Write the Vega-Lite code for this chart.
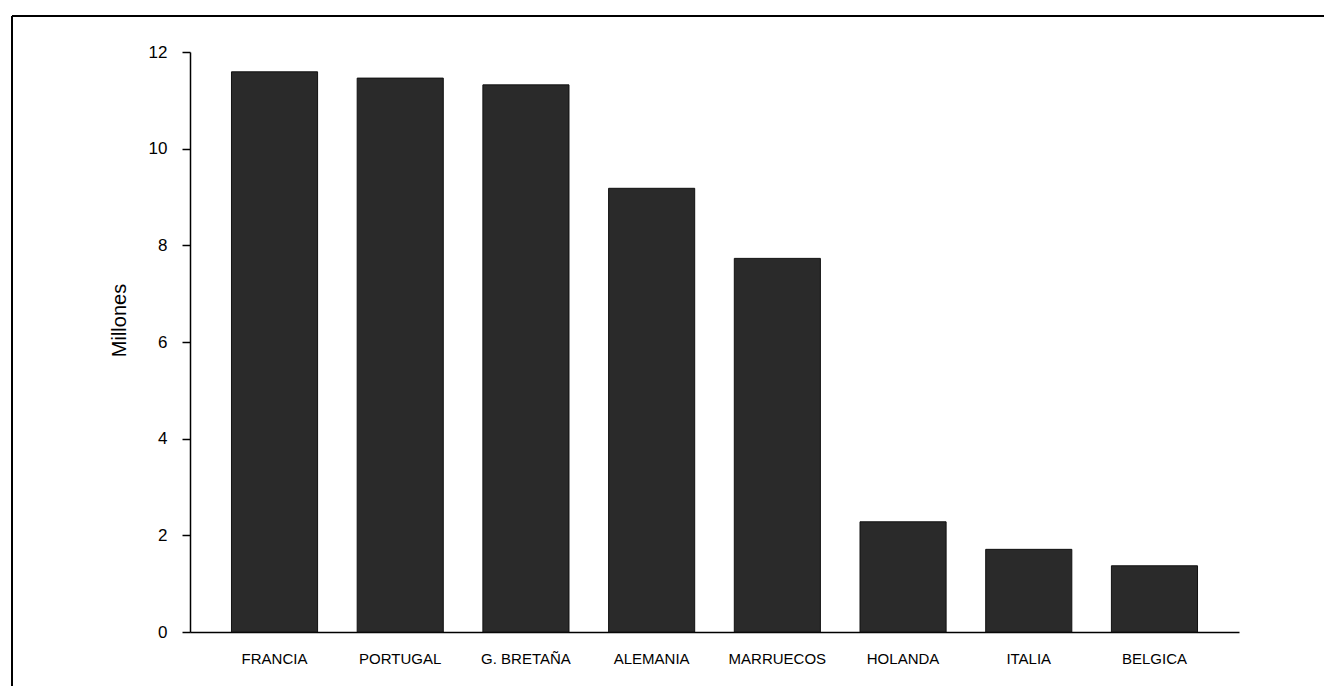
{
  "$schema": "https://vega.github.io/schema/vega-lite/v6.json",
  "width": 1312,
  "height": 670,
  "autosize": {"type": "none"},
  "padding": {"left": 12, "top": 16, "right": 0, "bottom": 0},
  "background": "white",
  "config": {"view": {"stroke": "black", "strokeWidth": 2, "strokeDash": [1312, 1982, 670, 0]}, "axis": {"grid": false}},
  "data": {
    "values": [
      {"pais": "FRANCIA", "millones": 11.59},
      {"pais": "PORTUGAL", "millones": 11.46},
      {"pais": "G. BRETAÑA", "millones": 11.32},
      {"pais": "ALEMANIA", "millones": 9.18},
      {"pais": "MARRUECOS", "millones": 7.73},
      {"pais": "HOLANDA", "millones": 2.28},
      {"pais": "ITALIA", "millones": 1.71},
      {"pais": "BELGICA", "millones": 1.37}
    ]
  },
  "mark": {"type": "bar", "fill": "#2a2a2a", "stroke": "#111111", "strokeWidth": 1},
  "encoding": {
    "x": {
      "field": "pais",
      "type": "nominal",
      "sort": null,
      "scale": {"range": [178, 1227], "paddingInner": 0.315, "paddingOuter": 0.33},
      "axis": {
        "title": null,
        "labelAngle": 0,
        "ticks": false,
        "offset": -54,
        "domainColor": "black",
        "domainWidth": 1.5,
        "labelFont": "Liberation Sans",
        "labelFontSize": 15,
        "labelColor": "black",
        "labelPadding": 19
      }
    },
    "y": {
      "field": "millones",
      "type": "quantitative",
      "scale": {"domain": [0, 12], "range": [616, 36], "nice": false},
      "axis": {
        "title": "Millones",
        "values": [0, 2, 4, 6, 8, 10, 12],
        "tickSize": 8,
        "tickColor": "black",
        "tickWidth": 1.5,
        "domainColor": "black",
        "domainWidth": 1.5,
        "offset": -178,
        "labelFont": "Liberation Sans",
        "labelFontSize": 17,
        "labelColor": "black",
        "labelPadding": 15,
        "titleFont": "Liberation Sans",
        "titleFontSize": 20,
        "titleFontWeight": "normal",
        "titleColor": "black",
        "titleX": -71,
        "titleY": 304,
        "titleAngle": -90,
        "titleAlign": "center",
        "titleBaseline": "middle"
      }
    }
  }
}
